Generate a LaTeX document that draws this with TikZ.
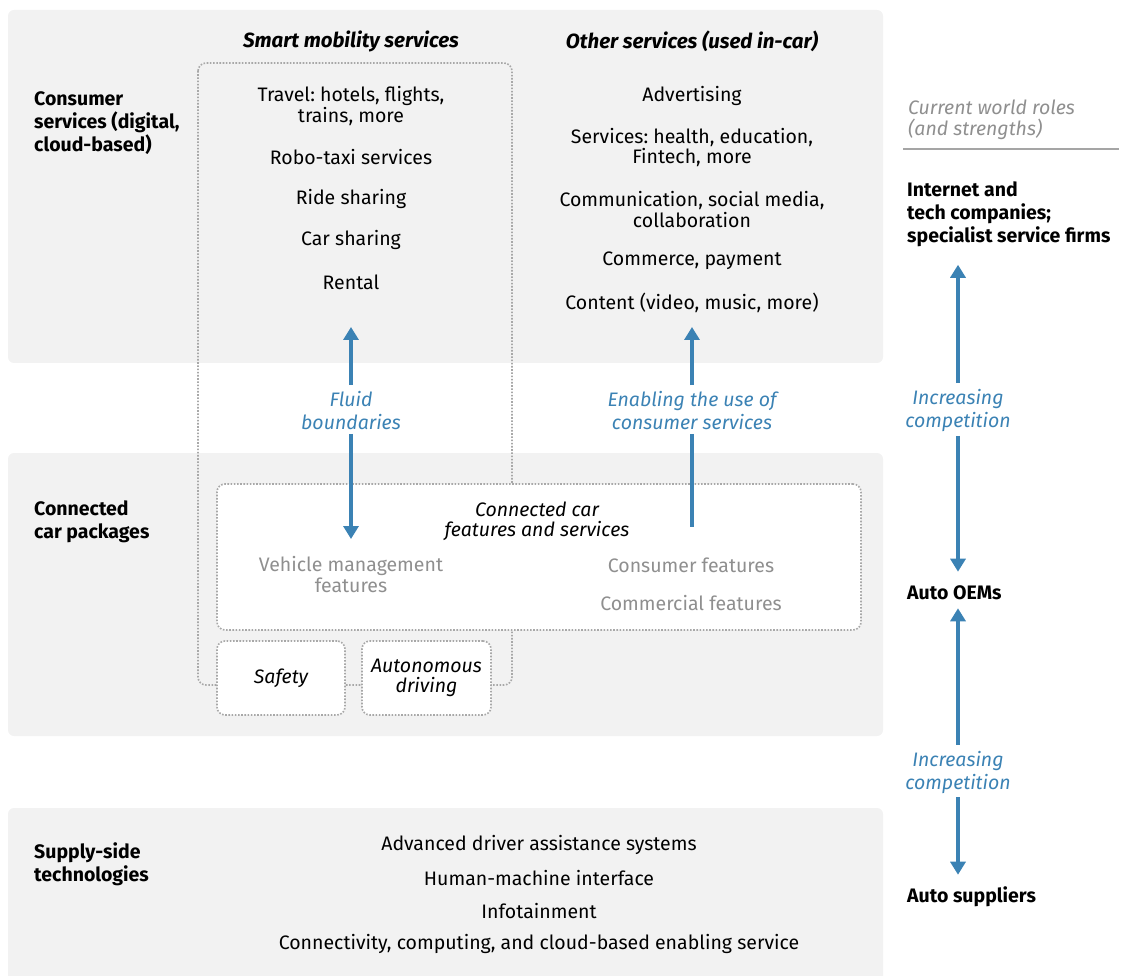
\documentclass[tikz,border=0pt]{standalone}
\usepackage{fontspec}
\setmainfont{Fira Sans}
\frenchspacing
\usetikzlibrary{arrows.meta, positioning}

\definecolor{panelgray}{HTML}{F2F2F2}
\definecolor{flowblue}{HTML}{3B82B4}
\definecolor{softgray}{HTML}{8F8F8F}
\definecolor{dotgray}{HTML}{A8A8A8}

\begin{document}
\begin{tikzpicture}[
    x=1pt, y=-1pt,
    every node/.style={font=\fontsize{19.5}{20.5}\selectfont, inner sep=0pt, align=center, yshift=-2pt},
    panel/.style={fill=panelgray, rounded corners=6pt},
    frame/.style={draw=dotgray, line width=1.6pt, dash pattern=on 1.6pt off 1.6pt, rounded corners=8pt},
    rowlabel/.style={font=\fontsize{19.5}{23}\selectfont\bfseries, align=left, anchor=west},
    head/.style={font=\fontsize{20.5}{20.5}\selectfont\bfseries\itshape},
    faded/.style={text=softgray},
    flowlabel/.style={text=flowblue, font=\fontsize{19.5}{23}\selectfont\itshape},
    role/.style={font=\fontsize{19.5}{23}\selectfont\bfseries, align=left, anchor=west},
    flow/.style={draw=flowblue, line width=4pt, -{Triangle[length=13pt, width=15pt]}}
]
\useasboundingbox (0,0) rectangle (1128,976);

% background bands
\fill[panel] (8,10) rectangle (883,363);
\fill[panel] (8,453) rectangle (883,736);
\fill[panel] (8,808) rectangle (883,990);

% row labels
\node[rowlabel] (consumer) at (34,121) {Consumer\\services (digital,\\cloud-based)};
\node[rowlabel] (connected) at (34,520) {Connected\\car packages};
\node[rowlabel] (supply) at (34,862) {Supply-side\\technologies};

% smart mobility column
\draw[frame] (198,63) rectangle (512,685);
\node[head] (smarthead) at (351,39) {Smart mobility services};
\node (travel) at (351,104) {Travel: hotels, flights,\\trains, more};
\node (robo) at (351,155) {Robo-taxi services};
\node (ride) at (351,197) {Ride sharing};
\node (carshare) at (351,238) {Car sharing};
\node (rental) at (351,280) {Rental};

% other services column
\node[head] (otherhead) at (692,39) {Other services (used in-car)};
\node (advert) at (692,94) {Advertising};
\node (health) at (692,145.5) {Services: health, education,\\Fintech, more};
\node (social) at (692,207.5) {Communication, social media,\\collaboration};
\node (commerce) at (692,259) {Commerce, payment};
\node (content) at (692,301) {Content (video, music, more)};

% connected car packages
\node[frame, fill=white, minimum width=644pt, minimum height=146pt, yshift=2pt] (ccbox) at (539,557) {};
\node[font=\fontsize{19.5}{20.5}\selectfont\itshape] (cctitle) at (537,519.5) {Connected car\\features and services};
\node[faded] (vehicle) at (351,572.5) {Vehicle management\\features};
\node[faded] (consumerf) at (691,563) {Consumer features};
\node[faded] (commercial) at (691,601) {Commercial features};
\node[frame, fill=white, minimum width=128pt, minimum height=74pt, yshift=2pt,
      font=\fontsize{19.5}{20.5}\selectfont\itshape] (safety) at (281,678) {Safety};
\node[frame, fill=white, minimum width=129pt, minimum height=74pt, yshift=2pt,
      font=\fontsize{19.5}{20.5}\selectfont\itshape] (autonomous) at (426.5,678) {Autonomous\\driving};

% supply-side technologies
\node (adas) at (539,843) {Advanced driver assistance systems};
\node (hmi) at (539,876) {Human-machine interface};
\node (infot) at (539,909) {Infotainment};
\node (cloud) at (539,942) {Connectivity, computing, and cloud-based enabling service};

% flows between bands
\node[flowlabel] (fluid) at (351,408.5) {Fluid\\boundaries};
\node[flowlabel] (enable) at (692,408.5) {Enabling the use of\\consumer services};
\coordinate (fluidtop) at (351,325);
\coordinate (fluidbot) at (351,537);
\coordinate (enabletop) at (692,325);
\coordinate (enablebot) at (692,525);
\draw[flow, shorten <=6pt] (fluid.north) -- (fluidtop);
\draw[flow, shorten <=4pt] (fluid.south) -- (fluidbot);
\draw[flow, shorten <=6pt] (enable.north) -- (enabletop);
\draw[draw=flowblue, line width=4pt, shorten <=4pt] (enable.south) -- (enablebot);

% world roles
\node[font=\fontsize{19.5}{21}\selectfont\itshape, text=softgray, align=left, anchor=west] (roles) at (908,117.5) {Current world roles\\(and strengths)};
\draw[softgray!80, line width=2pt] (903,149) -- (1119,149);
\node[role] (tech) at (907,212) {Internet and\\tech companies;\\specialist service firms};
\node[role] (oems) at (907,591) {Auto OEMs};
\node[role] (suppliers) at (907,895) {Auto suppliers};
\node[flowlabel] (comp1) at (958,408.5) {Increasing\\competition};
\node[flowlabel] (comp2) at (958,770) {Increasing\\competition};
\draw[flow, shorten <=6pt, shorten >=18pt] (comp1.north) -- (comp1.north |- tech.south);
\draw[flow, shorten <=4pt, shorten >=14pt] (comp1.south) -- (comp1.south |- oems.north);
\draw[flow, shorten <=6pt, shorten >=8pt] (comp2.north) -- (comp2.north |- oems.south);
\draw[flow, shorten <=4pt, shorten >=12pt] (comp2.south) -- (comp2.south |- suppliers.north);

\end{tikzpicture}
\end{document}
